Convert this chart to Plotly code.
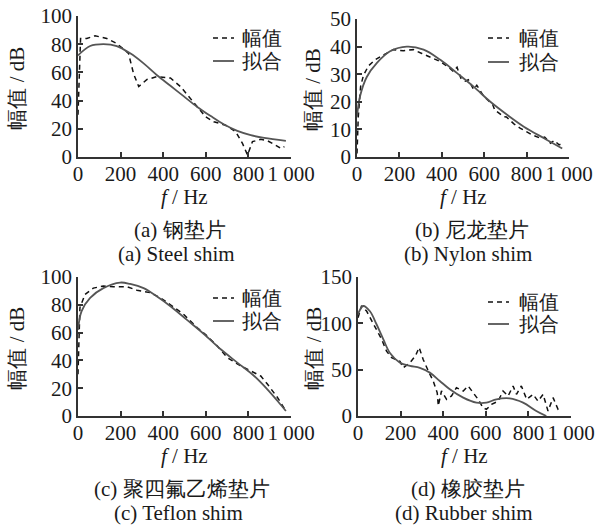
import plotly.graph_objects as go

W, H = 614, 530

# ---------------- data ----------------
a_f_meas = [0, 3, 6, 12, 41, 80, 135, 182, 237, 261, 285, 324, 371, 434, 481, 528, 568, 599, 638, 693, 740, 772, 796, 819, 858, 890, 921, 953, 969]
a_meas = [30, 45, 69, 84, 84, 86, 84, 80.5, 73.5, 59, 50, 55, 57, 56, 50, 41.5, 34.5, 28.5, 25, 22.5, 18, 9.7, 1.4, 10.9, 12.5, 11.5, 9, 6, 7.3]
a_f_fit = [0, 57, 119, 182, 245, 308, 371, 434, 497, 560, 623, 686, 748, 811, 874, 976]
a_fit = [72, 78.7, 80, 78.7, 73.5, 66.4, 58, 50.5, 43, 35.5, 29, 23, 18.5, 15.5, 13.5, 11.5]

b_f_meas = [0, 6, 17, 30, 54, 85, 125, 172, 219, 266, 306, 345, 393, 440, 455, 472, 490, 511, 525, 550, 565, 598, 640, 650, 692, 705, 740, 771, 826, 866, 885, 913, 930, 953, 965]
b_meas = [1.3, 14.6, 25.5, 29.5, 33, 35.2, 37, 38.9, 38.5, 38.9, 37.5, 36.2, 34.6, 32, 31, 32.5, 28.5, 27.5, 28, 24.5, 26, 22, 19, 17, 14.6, 14.5, 12, 10.4, 8, 6.8, 7.2, 5, 6, 4.4, 4.8]
b_f_fit = [0, 14, 46, 93, 156, 235, 314, 393, 472, 550, 629, 708, 787, 882, 968]
b_fit = [14.6, 21.9, 29, 34, 38.3, 40, 38.9, 35.2, 30.4, 25.5, 20, 15.3, 11, 6.8, 3.1]

c_f_meas = [0, 4, 9, 33, 72, 119, 167, 230, 277, 340, 387, 434, 497, 560, 607, 654, 701, 764, 811, 858, 890, 937, 976]
c_meas = [30, 51, 78, 87.5, 92, 93.5, 93, 93, 90.5, 88.7, 85, 80, 73, 63.5, 57.5, 50.4, 42, 36, 32.4, 28.8, 22.8, 13.2, 3.6]
c_f_fit = [0, 17, 57, 119, 198, 245, 308, 371, 434, 513, 591, 670, 748, 827, 890, 937, 976]
c_fit = [62, 75.5, 85, 92, 96, 95, 92, 86, 79, 69, 59, 48, 38.4, 28.8, 19, 10.8, 3.6]

d_f_meas = [0, 17, 41, 72, 111, 134, 158, 197, 212, 244, 270, 287, 306, 330, 353, 372, 377, 392, 416, 439, 462, 494, 517, 541, 564, 587, 603, 627, 658, 681, 705, 728, 744, 767, 792, 822, 845, 869, 892, 916, 939, 955]
d_meas = [106, 119, 113, 99, 82.7, 70, 63, 59, 52, 57.5, 65, 74, 61, 48.6, 37.8, 25, 11, 27, 18, 21.6, 30.6, 27, 32.4, 25, 18, 9, 7.2, 12.6, 16, 27, 21.6, 32.4, 23.4, 32.4, 18, 23.4, 16, 23.4, 5.4, 19.8, 7.2, 9]
d_f_fit = [0, 25, 56, 87, 119, 150, 197, 244, 290, 337, 384, 431, 494, 556, 603, 650, 712, 775, 837, 884]
d_fit = [110, 118.7, 113, 99, 82.7, 68, 57.5, 54, 52, 46.8, 37.8, 28.8, 19.8, 14.4, 14.4, 18, 19, 14.4, 5.4, 0]

x_ticks = [0, 200, 400, 600, 800, 1000]
x_ticktext = ["0", "200", "400", "600", "800", "1 000"]
y_ticks_ac = [0, 20, 40, 60, 80, 100]
y_ticks_b = [0, 10, 20, 30, 40, 50]
y_ticks_d = [0, 50, 100, 150]

names = ["幅值", "拟合"]
captions_cn = ["(a) 钢垫片", "(b) 尼龙垫片", "(c) 聚四氟乙烯垫片", "(d) 橡胶垫片"]
captions_en = ["(a) Steel shim", "(b) Nylon shim", "(c) Teflon shim", "(d) Rubber shim"]

# ---------------- layout geometry (px) ----------------
FONT = "Liberation Serif"
INK = "#1a1a1a"
DASH_COL = "#111111"
FIT_COL = "#555555"


def px_x(p):
    return p / W


def px_y(p):
    return 1 - p / H


panels = [
    dict(x0=78, x1=291, yt=16, yb=157, yr=[0, 100], yt_vals=y_ticks_ac,
         fm=a_f_meas, m=a_meas, ff=a_f_fit, fit=a_fit),
    dict(x0=357, x1=569, yt=19, yb=157, yr=[0, 50], yt_vals=y_ticks_b,
         fm=b_f_meas, m=b_meas, ff=b_f_fit, fit=b_fit),
    dict(x0=78, x1=291, yt=277, yb=416, yr=[0, 100], yt_vals=y_ticks_ac,
         fm=c_f_meas, m=c_meas, ff=c_f_fit, fit=c_fit),
    dict(x0=358, x1=571, yt=277, yb=416, yr=[0, 150], yt_vals=y_ticks_d,
         fm=d_f_meas, m=d_meas, ff=d_f_fit, fit=d_fit),
]

fig = go.Figure()
annotations = []
shapes = []
layout = dict(
    width=W, height=H, margin=dict(l=0, r=0, t=0, b=0, autoexpand=False),
    paper_bgcolor="white", plot_bgcolor="white",
    font=dict(family=FONT, size=20, color=INK),
    showlegend=False,
)

# legend placement: (sample start x, text x, row1 y, row2 y)
legend_pos = [(213, 240, 38, 61), (488, 517, 38, 62), (213, 240, 298, 321), (488, 517, 302, 324)]
col_center = [180, 472, 182, 468]
ytitle_x = [16, 313, 16, 313]

for i, p in enumerate(panels):
    xa = "xaxis" if i == 0 else f"xaxis{i+1}"
    ya = "yaxis" if i == 0 else f"yaxis{i+1}"
    xr = "x" if i == 0 else f"x{i+1}"
    yr = "y" if i == 0 else f"y{i+1}"
    fig.add_trace(go.Scatter(x=p["fm"], y=p["m"], mode="lines", name=names[0],
                             line=dict(color=DASH_COL, width=1.5, dash="5px,4px"),
                             xaxis=xr, yaxis=yr, cliponaxis=False))
    fig.add_trace(go.Scatter(x=p["ff"], y=p["fit"], mode="lines", name=names[1],
                             line=dict(color=FIT_COL, width=1.8, shape="spline", smoothing=1.0),
                             xaxis=xr, yaxis=yr, cliponaxis=False))
    layout[xa] = dict(domain=[px_x(p["x0"]), px_x(p["x1"])], range=[0, 1000],
                      anchor=yr, showline=True, linecolor="#333", linewidth=1.5,
                      ticks="inside", ticklen=5, tickwidth=1.5, tickcolor="#333",
                      tickvals=x_ticks, ticktext=x_ticktext, showgrid=False, zeroline=False,
                      ticklabelstandoff=-3, tickangle=0, automargin=False,
                      tickfont=dict(family=FONT, size=21, color=INK))
    layout[ya] = dict(domain=[px_y(p["yb"]), px_y(p["yt"])], range=p["yr"],
                      anchor=xr, showline=True, linecolor="#333", linewidth=1.5,
                      ticks="inside", ticklen=5, tickwidth=1.5, tickcolor="#333",
                      tickvals=p["yt_vals"], showgrid=False, zeroline=False,
                      ticklabelstandoff=0, automargin=False,
                      tickfont=dict(family=FONT, size=21, color=INK))
    # legend (drawn as sample lines + labels)
    sx, tx, r1, r2 = legend_pos[i]
    for (ry, col, dash, wdt, nm) in [(r1, DASH_COL, "5px,4px", 1.5, names[0]),
                                     (r2, FIT_COL, "solid", 1.8, names[1])]:
        shapes.append(dict(type="line", xref="paper", yref="paper",
                           x0=px_x(sx), x1=px_x(sx + 21), y0=px_y(ry), y1=px_y(ry),
                           line=dict(color=col, width=wdt, dash=dash)))
        annotations.append(dict(x=px_x(tx), y=px_y(ry), xref="paper", yref="paper",
                                text=nm, showarrow=False, xanchor="left", yanchor="middle",
                                font=dict(family=FONT, size=20, color=INK)))
    # axis titles
    cx = (p["x0"] + p["x1"]) / 2
    annotations.append(dict(
        x=px_x(cx), y=px_y(p["yb"] + 40), xref="paper", yref="paper",
        text="<i>f</i> / Hz", showarrow=False, xanchor="center", yanchor="middle",
        font=dict(family=FONT, size=21, color=INK)))
    cy = (p["yt"] + p["yb"]) / 2
    annotations.append(dict(
        x=px_x(ytitle_x[i]), y=px_y(cy + 2), xref="paper", yref="paper",
        text="幅值 / dB", showarrow=False, textangle=-90, xanchor="center", yanchor="middle",
        font=dict(family=FONT, size=21, color=INK)))
    # captions
    annotations.append(dict(
        x=px_x(col_center[i]), y=px_y(p["yb"] + 73), xref="paper", yref="paper",
        text=captions_cn[i], showarrow=False, xanchor="center", yanchor="middle",
        font=dict(family=FONT, size=21, color=INK)))
    annotations.append(dict(
        x=px_x(col_center[i] - 4), y=px_y(p["yb"] + 97), xref="paper", yref="paper",
        text=captions_en[i], showarrow=False, xanchor="center", yanchor="middle",
        font=dict(family=FONT, size=21, color=INK)))

layout["annotations"] = annotations
layout["shapes"] = shapes
fig.update_layout(**layout)
fig.write_html("out.html")
